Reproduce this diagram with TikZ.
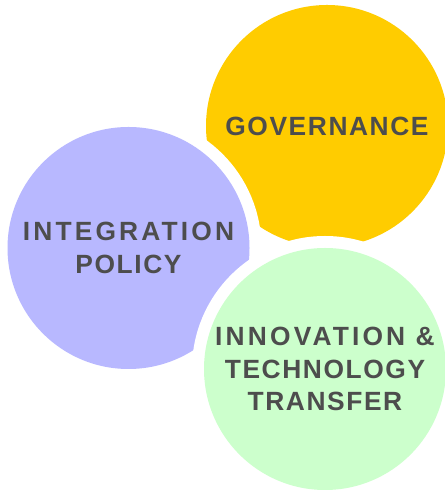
\documentclass[tikz,border=0pt]{standalone}
\usepackage{fontspec}
\usepackage{xcolor}
\usepackage{tikz}
\setmainfont{Liberation Sans}
\newfontfamily\tightlabel[LetterSpace=6]{Liberation Sans}
\newfontfamily\widelabel[LetterSpace=12]{Liberation Sans}
\definecolor{govgold}{RGB}{255, 204, 0}
\definecolor{policyblue}{RGB}{184, 184, 255}
\definecolor{innogreen}{RGB}{204, 255, 204}
\definecolor{labelgray}{RGB}{77, 77, 77}
\usetikzlibrary{positioning}

\begin{document}
\begin{tikzpicture}[
    bubble/.style={
        circle,
        minimum size=4.84cm,
        inner sep=0pt,
        align=center,
        text=labelgray,
        font=\fontsize{15}{18.5}\selectfont\bfseries,
        preaction={draw=white, line width=0.48cm}
    }
]
    \useasboundingbox (0,0) rectangle (8.9,9.82);
    % Governance
    \node[bubble, fill=govgold] (governance) at (6.54,7.30) {\tightlabel GOVERNANCE};
    % Integration policy
    \node[bubble, fill=policyblue] (policy) at (2.57,4.86) {
        {\widelabel INTEGRATION}\\
        {\tightlabel POLICY}
    };
    % Innovation and technology transfer
    \node[bubble, fill=innogreen] (innovation) at (6.50,2.44) {
        {\widelabel INNOVATION \&}\\
        {\tightlabel TECHNOLOGY}\\
        {\tightlabel TRANSFER}
    };
\end{tikzpicture}
\end{document}
